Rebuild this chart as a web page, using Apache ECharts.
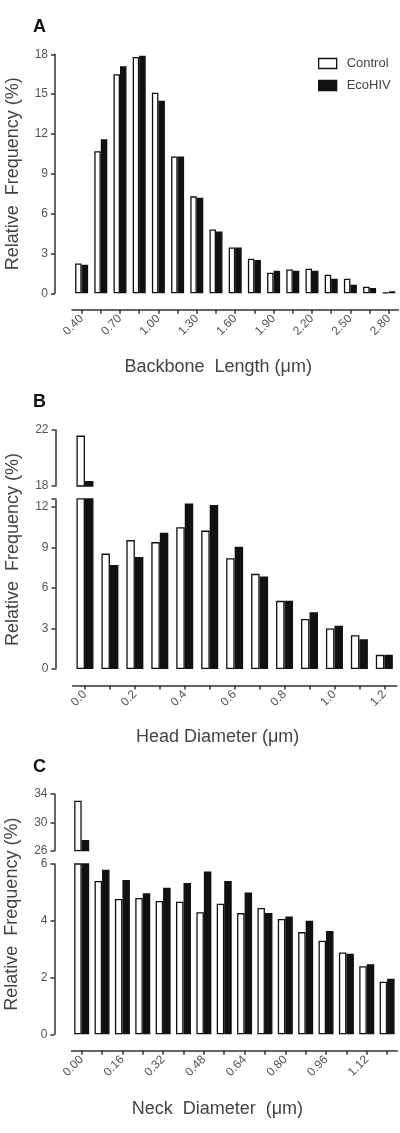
<!DOCTYPE html>
<html><head><meta charset="utf-8">
<script src="https://cdn.jsdelivr.net/npm/echarts@6/dist/echarts.min.js"></script>
<style>html,body{margin:0;padding:0;background:#fff}#c{width:400px;height:1133px}</style>
</head><body><div id="c"></div>
<script>
// ---------- DATA ----------
const seriesNames = ['Control', 'EcoHIV'];
const panelLabels = ['A', 'B', 'C'];

// Panel A: backbone length
const catsA = ['0.40','0.55','0.70','0.85','1.00','1.15','1.30','1.45','1.60','1.75','1.90','2.05','2.20','2.35','2.50','2.65','2.80'];
const controlA = [2.25,10.7,16.5,17.8,15.1,10.3,7.3,4.8,3.45,2.6,1.55,1.8,1.85,1.4,1.1,0.5,0.05];
const ecoA     = [2.15,11.6,17.1,17.9,14.5,10.3,7.2,4.65,3.45,2.5,1.7,1.7,1.7,1.1,0.65,0.4,0.15];
const ticksA = [0,3,6,9,12,15,18];

// Panel B: head diameter (broken axis)
const catsB = ['0.0','0.1','0.2','0.3','0.4','0.5','0.6','0.7','0.8','0.9','1.0','1.1','1.2'];
const controlB = [21.6,8.55,9.55,9.4,10.5,10.25,8.2,7.05,5.05,3.7,3.0,2.5,1.05];
const ecoB     = [18.35,7.7,8.3,10.1,12.25,12.15,9.05,6.85,5.05,4.2,3.2,2.2,1.05];
const rangeBLow = [0, 12.6];
const rangeBHigh = [18, 22];
const ticksBLow = [0,3,6,9,12];
const ticksBHigh = [18,22];

// Panel C: neck diameter (broken axis)
const catsC = ['0.00','0.08','0.16','0.24','0.32','0.40','0.48','0.56','0.64','0.72','0.80','0.88','0.96','1.04','1.12','1.20'];
const controlC = [33.05,5.4,4.77,4.8,4.7,4.67,4.3,4.6,4.27,4.45,4.06,3.6,3.3,2.88,2.4,1.85];
const ecoC     = [27.5,5.8,5.44,4.97,5.16,5.33,5.74,5.4,5.0,4.27,4.15,4.0,3.64,2.84,2.47,1.96];
const rangeCLow = [0, 6];
const rangeCHigh = [26, 34];
const ticksCLow = [0,2,4,6];
const ticksCHigh = [26,30,34];

const xNames = ['Backbone  Length (\u03bcm)', 'Head Diameter (\u03bcm)', 'Neck  Diameter  (\u03bcm)'];
const yName = 'Relative  Frequency (%)';

// ---------- STYLE / LAYOUT ----------
const FONT = '"Liberation Sans", Arial, sans-serif';
const AX = '#333', LBL = '#555';
const ctrlStyle = {color:'#fff', borderColor:'#111', borderWidth:1.3};
const ecoStyle = {color:'#111', borderColor:'#111', borderWidth:1.3};

const grids = [
  {left:72, width:326.4, top:54.3, height:239},     // 0 A
  {left:72.5, width:324.3, top:430, height:56},     // 1 B high
  {left:72.5, width:324.3, top:498.9, height:170.1},// 2 B low
  {left:71.5, width:325.8, top:794, height:56.7},   // 3 C high
  {left:71.5, width:325.8, top:864, height:170.3},  // 4 C low
  {left:72.5, width:324.3, top:430, height:239},    // 5 B name holder
  {left:71.5, width:325.8, top:794, height:240.3}   // 6 C name holder
].map(g => Object.assign(g, {outerBoundsMode:'none', containLabel:false}));

function xAxisShown(gi, cats, name, gap) {
  return {type:'category', gridIndex:gi, data:cats, offset:16.5,
    axisLine:{show:true, onZero:false, lineStyle:{color:AX, width:1.5}},
    axisTick:{show:true, interval:0, alignWithLabel:true, length:4, lineStyle:{color:AX, width:1.5}},
    axisLabel:{interval:1, rotate:45, fontSize:12, color:LBL, margin:7, fontFamily:FONT},
    name:name, nameLocation:'middle', nameGap:gap,
    nameTextStyle:{fontSize:18, color:'#444', fontFamily:FONT, padding:[0,34,0,0]},
    splitLine:{show:false}};
}
function xAxisHidden(gi, cats) {
  return {type:'category', gridIndex:gi, data:cats, show:false};
}
function yAxisShown(gi, range, ticks, tickVals) {
  return {type:'value', gridIndex:gi, min:range[0], max:range[1], offset:17,
    splitLine:{show:false},
    axisLine:{show:true, lineStyle:{color:AX, width:1.5}},
    axisTick:{show:true, length:4, lineStyle:{color:AX, width:1.5}, customValues: tickVals || ticks},
    axisLabel:{customValues:ticks, fontSize:12, color:LBL, margin:7, fontFamily:FONT}};
}
function yAxisName(gi, withLine, range, ticks) {
  const base = withLine ? yAxisShown(gi, range, ticks) :
    {type:'value', gridIndex:gi, min:0, max:1, offset:17, axisLine:{show:false}, axisTick:{show:false},
     axisLabel:{show:false}, splitLine:{show:false}};
  base.name = yName; base.nameLocation = 'middle'; base.nameGap = 33;
  base.nameTextStyle = {fontSize:18, color:'#444', fontFamily:FONT};
  return base;
}

const above = (arr, lo) => arr.map(v => v > lo ? v : '-');

function bars(ai, ctrl, eco, bw) {
  return [
    {name:seriesNames[0], type:'bar', xAxisIndex:ai, yAxisIndex:ai, data:ctrl, barWidth:bw, barGap:'0%', itemStyle:ctrlStyle, clip:true, silent:true},
    {name:seriesNames[1], type:'bar', xAxisIndex:ai, yAxisIndex:ai, data:eco, barWidth:bw, barGap:'0%', itemStyle:ecoStyle, clip:true, silent:true}
  ];
}

const option = {
  animation:false,
  backgroundColor:'#fff',
  textStyle:{fontFamily:FONT},
  title: [
    {text:panelLabels[0], left:28, top:13},
    {text:panelLabels[1], left:28, top:388},
    {text:panelLabels[2], left:28, top:753}
  ].map(t => Object.assign(t, {textStyle:{fontSize:18, fontWeight:'bold', color:'#111', fontFamily:FONT}})),
  legend:{data:[{name:seriesNames[0], itemStyle:ctrlStyle},{name:seriesNames[1], itemStyle:ecoStyle}],
    orient:'vertical', left:318, top:57, itemWidth:18, itemHeight:10, itemGap:9, padding:0,
    selectedMode:false, icon:'rect',
    textStyle:{fontSize:13, color:'#444', fontFamily:FONT, padding:[0,0,0,5]}},
  grid: grids,
  xAxis: [
    xAxisShown(0, catsA, xNames[0], 48),
    xAxisHidden(1, catsB),
    xAxisShown(2, catsB, xNames[1], 43),
    xAxisHidden(3, catsC),
    xAxisShown(4, catsC, xNames[2], 49.5),
    xAxisHidden(5, catsB),
    xAxisHidden(6, catsC)
  ],
  yAxis: [
    yAxisName(0, true, [0,18], ticksA),
    yAxisShown(1, rangeBHigh, ticksBHigh),
    yAxisShown(2, rangeBLow, ticksBLow, ticksBLow.concat([rangeBLow[1]])),
    yAxisShown(3, rangeCHigh, ticksCHigh),
    yAxisShown(4, rangeCLow, ticksCLow),
    yAxisName(5, false),
    yAxisName(6, false)
  ],
  series: [].concat(
    bars(0, controlA, ecoA, 6.5),
    bars(1, above(controlB, rangeBHigh[0]), above(ecoB, rangeBHigh[0]), 8.5),
    bars(2, controlB, ecoB, 8.5),
    bars(3, above(controlC, rangeCHigh[0]), above(ecoC, rangeCHigh[0]), 7.5),
    bars(4, controlC, ecoC, 7.5)
  )
};

const chart = echarts.init(document.getElementById('c'), null, {renderer:'canvas', width:400, height:1133});
chart.setOption(option);
</script>
</body></html>
